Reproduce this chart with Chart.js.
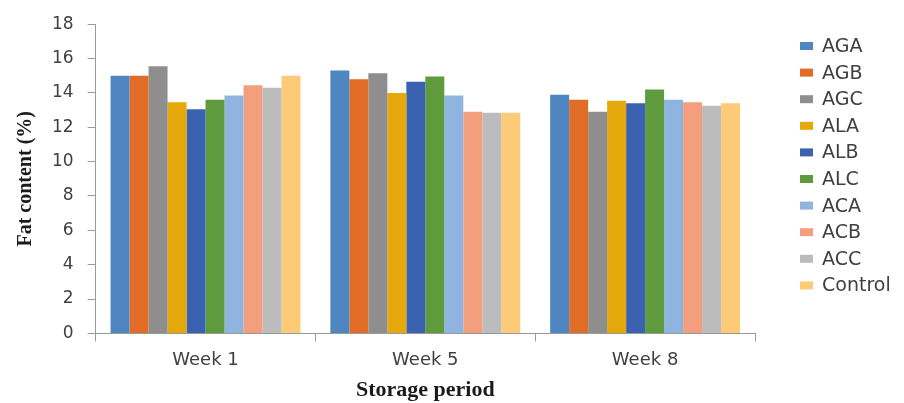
<!DOCTYPE html>
<html>
<head>
<meta charset="utf-8">
<script src="https://cdn.jsdelivr.net/npm/chart.js@4/dist/chart.umd.min.js"></script>
<style>
  body { margin: 0; background: #fff; }
  #wrap { width: 904px; height: 403px; }
</style>
</head>
<body>
<div id="wrap"><canvas id="grafico"></canvas></div>
<script>
// categorias y series
const semanas = ['Week 1', 'Week 5', 'Week 8'];
const tratamientos = ['AGA', 'AGB', 'AGC', 'ALA', 'ALB', 'ALC', 'ACA', 'ACB', 'ACC', 'Control'];
const colores = ['#4f86c1', '#e06c26', '#8e8e8e', '#e5a80b', '#3b62b0', '#5f9a3c', '#8fb4e0', '#f39f7e', '#bcbcbc', '#fdca78'];

const AGA = [15.0, 15.3, 13.9];
const AGB = [15.0, 14.8, 13.6];
const AGC = [15.55, 15.15, 12.9];
const ALA = [13.45, 14.0, 13.55];
const ALB = [13.05, 14.65, 13.4];
const ALC = [13.6, 14.95, 14.2];
const ACA = [13.85, 13.85, 13.6];
const ACB = [14.45, 12.9, 13.45];
const ACC = [14.3, 12.85, 13.25];
const Control = [15.0, 12.85, 13.4];
const valores = [AGA, AGB, AGC, ALA, ALB, ALC, ACA, ACB, ACC, Control];

const yTicks = [0, 2, 4, 6, 8, 10, 12, 14, 16, 18];

// leyenda dibujada a mano a la derecha
const leyendaDerecha = {
    id: 'leyendaDerecha',
    afterDraw(chart) {
        const ctx = chart.ctx;
        ctx.save();
        ctx.font = '19px "DejaVu Sans"';
        ctx.textBaseline = 'middle';
        chart.data.datasets.forEach((ds, i) => {
            const y = 46 + i * 26.6;
            ctx.fillStyle = ds.backgroundColor;
            ctx.fillRect(800, y - 4, 13, 8);
            ctx.fillStyle = '#404040';
            ctx.fillText(ds.label, 822, y + 1);
        });
        ctx.restore();
    }
};

const ctx = document.getElementById('grafico').getContext('2d');
new Chart(ctx, {
    type: 'bar',
    data: {
        labels: semanas,
        datasets: tratamientos.map((t, i) => ({
            label: t,
            data: valores[i],
            backgroundColor: colores[i],
            borderWidth: 0,
            categoryPercentage: 0.864,
            barPercentage: 1.0
        }))
    },
    options: {
        responsive: true,
        maintainAspectRatio: false,
        animation: false,
        layout: { padding: { left: 14, right: 149, top: 1, bottom: 2 } },
        plugins: {
            legend: { display: false },
            tooltip: { enabled: false }
        },
        scales: {
            x: {
                grid: { offset: true, drawOnChartArea: false, tickLength: 8, color: '#999' },
                border: { color: '#999' },
                ticks: { color: '#404040', font: { family: 'DejaVu Sans', size: 18 }, padding: 8 },
                title: {
                    display: true,
                    text: 'Storage period',
                    color: '#1a1a1a',
                    font: { family: 'Liberation Serif', size: 22, weight: 'bold', lineHeight: 1.0 },
                    padding: { top: 0, bottom: 0 }
                }
            },
            y: {
                min: 0,
                max: 18,
                afterBuildTicks: axis => { axis.ticks = yTicks.map(v => ({ value: v })); },
                grid: { drawOnChartArea: false, tickLength: 8, color: '#999' },
                border: { color: '#999' },
                ticks: { color: '#404040', font: { family: 'DejaVu Sans', size: 17 }, padding: 14 },
                title: {
                    display: true,
                    text: 'Fat content (%)',
                    color: '#1a1a1a',
                    font: { family: 'Liberation Serif', size: 20, weight: 'bold' },
                    padding: { top: 0, bottom: 0 }
                }
            }
        }
    },
    plugins: [leyendaDerecha]
});
</script>
</body>
</html>
